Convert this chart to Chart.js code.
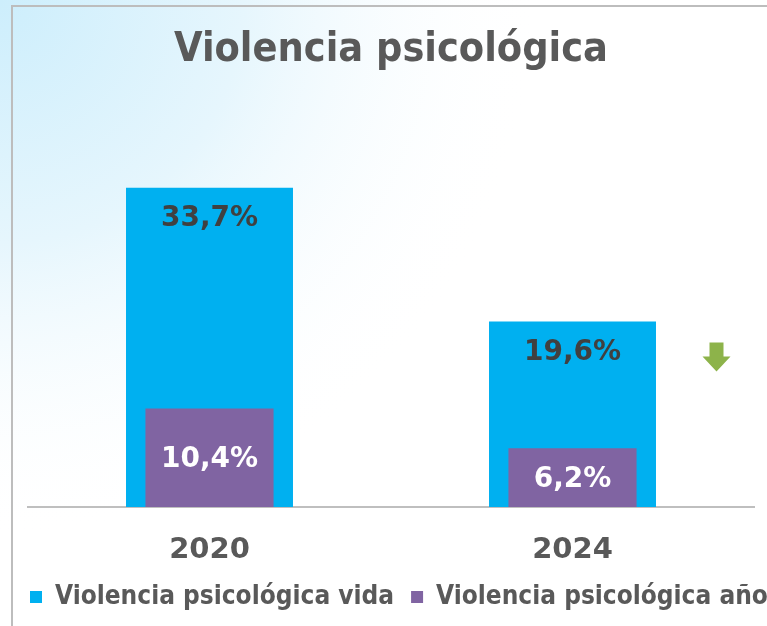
<!DOCTYPE html>
<html>
<head>
<meta charset="utf-8">
<script src="https://cdn.jsdelivr.net/npm/chart.js@4.4.0/dist/chart.umd.min.js"></script>
<style>
html, body { margin: 0; padding: 0; overflow: hidden; background: #fff; }
#wrap { width: 767px; height: 626px; overflow: hidden; }
#box { width: 900px; height: 626px; }
</style>
</head>
<body>
<div id="wrap"><div id="box"><canvas id="graph"></canvas></div></div>
<script>
const years = ['2020', '2024'];
const vida = [33.7, 19.6];
const anio = [10.4, 6.2];
const seriesNames = ['Violencia psicológica vida', 'Violencia psicológica año'];

const condensed = "'DejaVu Sans Condensed', 'DejaVu Sans', sans-serif";
const wide = "'DejaVu Sans', Verdana, sans-serif";

// background wash + frame lines
const backdrop = {
    id: 'backdrop',
    beforeDraw(chart) {
        const c = chart.ctx;
        c.save();
        c.fillStyle = '#ffffff';
        c.fillRect(0, 0, chart.width, chart.height);
        const g = c.createRadialGradient(0, 0, 0, 0, 0, 540);
        g.addColorStop(0, '#cdeefc');
        g.addColorStop(0.45, '#e6f6fd');
        g.addColorStop(1, 'rgba(255,255,255,0)');
        c.fillStyle = g;
        c.fillRect(0, 0, chart.width, chart.height);
        c.strokeStyle = '#bdbdbd';
        c.lineWidth = 2;
        c.beginPath();
        c.moveTo(12, chart.height);
        c.lineTo(12, 6);
        c.lineTo(chart.width, 6);
        c.stroke();
        c.restore();
    }
};

// value labels and the trend arrow
const valueLabels = {
    id: 'valueLabels',
    afterDatasetsDraw(chart) {
        const c = chart.ctx;
        c.save();
        c.textAlign = 'center';
        c.textBaseline = 'middle';
        c.font = 'bold 28px ' + wide;
        chart.data.datasets.forEach((ds, i) => {
            chart.getDatasetMeta(i).data.forEach((bar, j) => {
                const txt = ds.data[j].toFixed(1).replace('.', ',') + '%';
                if (i === 0) {
                    c.fillStyle = '#404040';
                    c.fillText(txt, bar.x, bar.y + 31);
                } else {
                    c.fillStyle = '#ffffff';
                    c.fillText(txt, bar.x, (bar.y + bar.base) / 2 + 2);
                }
            });
        });

        const x = chart.scales.x.getPixelForValue(1) + 144;
        const y = chart.scales.y.getPixelForValue(vida[1]) + 21;
        c.fillStyle = '#8db34a';
        c.beginPath();
        c.moveTo(x - 7, y);
        c.lineTo(x + 7, y);
        c.lineTo(x + 7, y + 14);
        c.lineTo(x + 14, y + 14);
        c.lineTo(x, y + 29);
        c.lineTo(x - 14, y + 14);
        c.lineTo(x - 7, y + 14);
        c.closePath();
        c.fill();
        c.restore();
    }
};

const ctx = document.getElementById('graph').getContext('2d');
const chart = new Chart(ctx, {
    type: 'bar',
    data: {
        labels: years,
        datasets: [{
            label: seriesNames[0],
            data: vida,
            backgroundColor: '#00b0f0',
            grouped: false,
            categoryPercentage: 1,
            barPercentage: 0.46,
            order: 2
        }, {
            label: seriesNames[1],
            data: anio,
            backgroundColor: '#8064a2',
            grouped: false,
            categoryPercentage: 1,
            barPercentage: 0.353,
            order: 1
        }]
    },
    options: {
        responsive: true,
        maintainAspectRatio: false,
        animation: false,
        layout: {
            padding: { left: 13, right: 0, top: 0, bottom: 6 }
        },
        scales: {
            x: {
                grid: { display: false, drawTicks: false },
                border: { display: true, color: '#bfbfbf', width: 2 },
                ticks: {
                    color: '#595959',
                    padding: 26,
                    font: { family: wide, size: 29, weight: 'bold' }
                },
                afterFit: (s) => { s.height = 60; }
            },
            y: {
                min: 0,
                max: 40,
                grid: { display: false, drawTicks: false },
                border: { display: false },
                ticks: { display: false },
                afterFit: (s) => { s.width = 15; }
            },
            y2: {
                position: 'right',
                min: 0,
                max: 40,
                grid: { display: false, drawTicks: false },
                border: { display: false },
                ticks: { display: false },
                afterFit: (s) => { s.width = 146; }
            }
        },
        plugins: {
            title: {
                display: true,
                fullSize: false,
                text: 'Violencia psicológica',
                color: '#595959',
                font: { family: condensed, size: 41, weight: 'bold', lineHeight: 1.2 },
                padding: { top: 26, bottom: 53 }
            },
            legend: {
                position: 'bottom',
                align: 'start',
                labels: {
                    color: '#595959',
                    boxWidth: 12,
                    boxHeight: 12,
                    padding: 17,
                    font: { family: condensed, size: 26, weight: 'bold' },
                    sort: (a, b) => a.datasetIndex - b.datasetIndex
                }
            },
            tooltip: { enabled: false }
        }
    },
    plugins: [backdrop, valueLabels]
});
</script>
</body>
</html>
